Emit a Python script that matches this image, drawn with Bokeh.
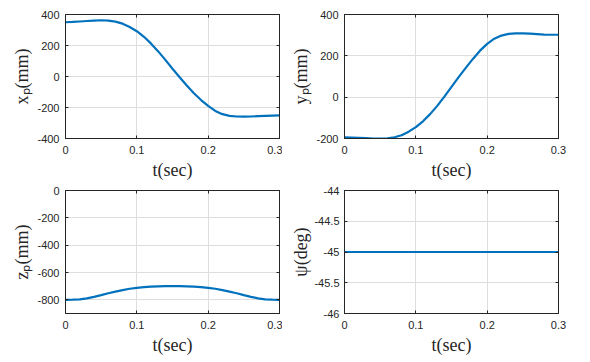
from bokeh.plotting import figure
from bokeh.models import Range1d, FixedTicker, LinearAxis
from bokeh.layouts import gridplot
from bokeh.embed import file_html
from bokeh.resources import INLINE

# ---- data ----
t = [0.00, 0.01, 0.02, 0.03, 0.04, 0.05, 0.06, 0.07, 0.08, 0.09, 0.10,
     0.11, 0.12, 0.13, 0.14, 0.15, 0.16, 0.17, 0.18, 0.19, 0.20,
     0.21, 0.22, 0.23, 0.24, 0.25, 0.26, 0.27, 0.28, 0.29, 0.30]

x_p = [350, 352, 355, 358, 361, 363, 361, 354, 341, 319, 292,
       256, 212, 162, 107, 50, -5, -58, -108, -152, -190,
       -222, -243, -254, -258, -259, -258, -256, -254, -252, -251]

y_p = [-195, -196, -197, -198, -200, -201, -199, -194, -184, -167, -145,
       -117, -82, -42, 3, 50, 97, 142, 185, 225, 258,
       283, 298, 306, 309, 309, 307, 305, 303, 302, 302]

z_p = [-800, -799, -796, -789, -778, -766, -752, -740, -729, -719, -712,
       -707, -703, -701, -700, -700, -700, -701, -703, -707, -712,
       -719, -729, -740, -752, -766, -778, -789, -796, -799, -800]

psi = [-45, -45, -45, -45, -45, -45, -45, -45, -45, -45, -45,
       -45, -45, -45, -45, -45, -45, -45, -45, -45, -45,
       -45, -45, -45, -45, -45, -45, -45, -45, -45, -45]

x_ticks = [0, 0.1, 0.2, 0.3]
x_tick_labels = ["0", "0.1", "0.2", "0.3"]

xp_ticks = [-400, -200, 0, 200, 400]
xp_tick_labels = ["-400", "-200", "0", "200", "400"]
yp_ticks = [-200, 0, 200, 400]
yp_tick_labels = ["-200", "0", "200", "400"]
zp_ticks = [-800, -600, -400, -200, 0]
zp_tick_labels = ["-800", "-600", "-400", "-200", "0"]
psi_ticks = [-46, -45.5, -45, -44.5, -44]
psi_tick_labels = ["-46", "-45.5", "-45", "-44.5", "-44"]

x_label = "t(sec)"
labels = ["x\u209a(mm)", "y\u209a(mm)", "z\u209a(mm)", "\u03c8(deg)"]

LINE = "#0072BD"
AX = "#262626"
GRID = "#dedede"


def style_axis(ax, ticks, tick_labels, show_labels=True, label=None,
               lab_standoff=6, ax_standoff=2):
    ax.ticker = FixedTicker(ticks=ticks)
    ax.axis_line_color = AX
    ax.axis_line_width = 1
    ax.major_tick_line_color = AX
    ax.major_tick_in = 3
    ax.major_tick_out = 0
    ax.minor_tick_line_color = None
    if show_labels:
        ax.major_label_overrides = {k: v for k, v in zip(ticks, tick_labels)}
        ax.major_label_text_font = "Liberation Sans"
        ax.major_label_text_font_size = "11px"
        ax.major_label_text_color = AX
        ax.major_label_standoff = lab_standoff
        if label is not None:
            ax.axis_label = label
            ax.axis_label_text_font = "Liberation Serif"
            ax.axis_label_text_font_size = "18px"
            ax.axis_label_text_font_style = "normal"
            ax.axis_label_text_color = AX
            ax.axis_label_standoff = ax_standoff
    else:
        ax.major_label_text_font_size = "1px"
        ax.major_label_text_color = None
        ax.major_label_standoff = 0


def make(yvals, yr, yticks, ytl, ylabel, w, h, bl, br, bt, bb,
         y_lab_standoff=6, y_ax_standoff=2):
    p = figure(width=w, height=h, x_range=Range1d(0, 0.3), y_range=Range1d(*yr),
               output_backend="svg", toolbar_location=None,
               min_border_left=bl, min_border_right=br,
               min_border_top=bt, min_border_bottom=bb)
    p.background_fill_color = "white"
    p.border_fill_color = "white"
    p.outline_line_color = AX
    p.outline_line_width = 1
    p.line(t, yvals, line_color=LINE, line_width=2.2)
    style_axis(p.xaxis[0], x_ticks, x_tick_labels, True, x_label, 7, 3)
    style_axis(p.yaxis[0], yticks, ytl, True, ylabel, y_lab_standoff, y_ax_standoff)
    top = LinearAxis()
    right = LinearAxis()
    style_axis(top, x_ticks, x_tick_labels, False)
    style_axis(right, yticks, ytl, False)
    p.add_layout(top, "above")
    p.add_layout(right, "right")
    p.xgrid.ticker = FixedTicker(ticks=x_ticks)
    p.ygrid.ticker = FixedTicker(ticks=yticks)
    p.grid.grid_line_color = GRID
    p.grid.grid_line_width = 1
    return p


p1 = make(x_p, (-400, 400), xp_ticks, xp_tick_labels, labels[0], 282, 184, 65, 3, 14, 46)
p2 = make(y_p, (-200, 400), yp_ticks, yp_tick_labels, labels[1], 286, 184, 62, 10, 14, 46)
p3 = make(z_p, (-900, 0), zp_ticks, zp_tick_labels, labels[2], 282, 177, 65, 3, 6, 48)
p4 = make(psi, (-46, -44), psi_ticks, psi_tick_labels, labels[3], 286, 177, 62, 10, 6, 48,
          5, 0)

grid = gridplot([[p1, p2], [p3, p4]], toolbar_location=None)

open("out.html", "w").write(file_html(grid, INLINE))
